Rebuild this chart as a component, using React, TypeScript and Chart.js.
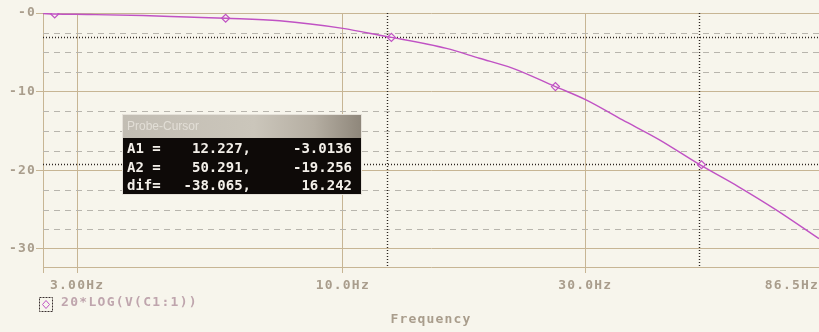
import React, { useEffect, useRef } from 'react';
import { Chart, registerables } from 'chart.js';

Chart.register(...registerables);

// ---- data ----
const freqHz = [2.57, 2.71, 3.18, 4.04, 4.93, 5.88, 7.51, 10.0, 12.227, 12.46, 15.99, 18.56, 21.55, 26.2, 30.1, 35.5, 41.9, 50.291, 60.1, 71.1, 86.5];
const gainDb = [-0.08, -0.13, -0.19, -0.32, -0.51, -0.67, -0.98, -1.95, -3.01, -3.1, -4.5, -5.75, -7.0, -9.36, -11.05, -13.6, -16.1, -19.26, -22.1, -25.0, -28.7];
const markerFreqHz = [2.71, 5.88, 12.46, 26.2, 50.8];
const markerDb = [-0.13, -0.67, -3.1, -9.36, -19.3];
const xTickValues = [2.57, 3, 10, 30, 86.5];
const xTickLabels = ['', '3.00Hz', '10.0Hz', '30.0Hz', '86.5Hz'];
const yTickValues = [0, -10, -20, -30];
const yTickLabels = ['-0', '-10', '-20', '-30'];
const yMinorValues = [-2.5, -5, -7.5, -12.5, -15, -17.5, -22.5, -25, -27.5];
const cursorFreqs = [12.227, 50.291];
const cursorDb = [-3.0136, -19.256];
const probeRows = [
  ['A1 =', '12.227,', '-3.0136'],
  ['A2 =', '50.291,', '-19.256'],
  ['dif=', '-38.065,', '16.242'],
];
const traceLabel = '20*LOG(V(C1:1))';
const xAxisTitle = 'Frequency';
const probeTitle = 'Probe-Cursor';

const BG = '#f7f5ec';
const TAN = '#c7b594';
const TEXT = '#a99d8c';
const TRACE = '#c052c4';
const MONO = '"DejaVu Sans Mono", monospace';

const pspicePlugin = {
  id: 'pspice',
  beforeDraw(chart: any) {
    const { ctx, width, height } = chart;
    ctx.save();
    ctx.fillStyle = BG;
    ctx.fillRect(0, 0, width, height);
    ctx.restore();
    ctx.letterSpacing = '1.2px';
  },
  beforeDatasetsDraw(chart: any) {
    const { ctx, chartArea, scales } = chart;
    const { left, right, top, bottom } = chartArea;
    const x = scales.x;
    const y = scales.y;
    ctx.save();
    ctx.lineWidth = 1;
    ctx.strokeStyle = '#b8b5ad';
    ctx.setLineDash([6, 5]);
    yMinorValues.forEach((v) => {
      const py = Math.round(y.getPixelForValue(v)) + 0.5;
      ctx.beginPath();
      ctx.moveTo(left, py);
      ctx.lineTo(right, py);
      ctx.stroke();
    });
    ctx.strokeStyle = '#2c2520';
    ctx.lineWidth = 1.4;
    ctx.setLineDash([1, 2]);
    cursorDb.forEach((v) => {
      const py = Math.round(y.getPixelForValue(v)) + 0.5;
      ctx.beginPath();
      ctx.moveTo(left, py);
      ctx.lineTo(right, py);
      ctx.stroke();
    });
    cursorFreqs.forEach((f) => {
      const px = Math.round(x.getPixelForValue(f)) + 0.5;
      ctx.beginPath();
      ctx.moveTo(px, top);
      ctx.lineTo(px, bottom);
      ctx.stroke();
    });
    ctx.restore();
  },
  afterDraw(chart: any) {
    const { ctx } = chart;
    ctx.save();
    ctx.letterSpacing = '0px';
    // probe cursor window
    const bx = 122, by = 114, bw = 240, bh = 81;
    ctx.fillStyle = '#e6e2da';
    ctx.fillRect(bx, by, bw, bh);
    const g = ctx.createLinearGradient(bx, 0, bx + bw, 0);
    g.addColorStop(0, '#c2bdb3');
    g.addColorStop(0.55, '#cbc6bb');
    g.addColorStop(0.8, '#b5aea2');
    g.addColorStop(1, '#8e867a');
    ctx.fillStyle = g;
    ctx.fillRect(bx + 1, by + 1, bw - 2, 23);
    ctx.fillStyle = '#e2ded6';
    ctx.font = '12px "Liberation Sans", Arial, sans-serif';
    ctx.textBaseline = 'middle';
    ctx.textAlign = 'left';
    ctx.fillText(probeTitle, bx + 5, by + 13);
    ctx.fillStyle = '#0e0a08';
    ctx.fillRect(bx + 1, by + 24, bw - 2, bh - 25);
    ctx.fillStyle = '#f3efe9';
    ctx.font = 'bold 14px ' + MONO;
    probeRows.forEach((row, i) => {
      const ry = 149.5 + i * 18.5;
      ctx.textAlign = 'left';
      ctx.fillText(row[0], 127, ry);
      ctx.textAlign = 'right';
      ctx.fillText(row[1], 251, ry);
      ctx.fillText(row[2], 352, ry);
    });
    // legend
    ctx.strokeStyle = '#3a3030';
    ctx.lineWidth = 1;
    ctx.setLineDash([2, 1]);
    ctx.strokeRect(39.5, 297.5, 13, 14);
    ctx.setLineDash([]);
    ctx.strokeStyle = TRACE;
    ctx.fillStyle = BG;
    ctx.beginPath();
    ctx.moveTo(46, 300.5);
    ctx.lineTo(49.5, 304.5);
    ctx.lineTo(46, 308.5);
    ctx.lineTo(42.5, 304.5);
    ctx.closePath();
    ctx.fill();
    ctx.stroke();
    ctx.letterSpacing = '1.3px';
    ctx.fillStyle = '#bfa5ad';
    ctx.font = 'bold 13px ' + MONO;
    ctx.textAlign = 'left';
    ctx.textBaseline = 'middle';
    ctx.fillText(traceLabel, 61, 302.5);
    ctx.restore();
  },
};

export default function App() {
  const canvasRef = useRef<HTMLCanvasElement | null>(null);

  useEffect(() => {
    document.body.style.margin = '0';
    const canvas = canvasRef.current;
    if (!canvas) return;
    const chart = new Chart(canvas, {
      type: 'line',
      data: {
        datasets: [
          {
            label: traceLabel,
            data: freqHz.map((f, i) => ({ x: f, y: gainDb[i] })),
            borderColor: TRACE,
            borderWidth: 1.4,
            pointRadius: 0,
            cubicInterpolationMode: 'monotone',
            fill: false,
          },
          {
            label: 'markers',
            data: markerFreqHz.map((f, i) => ({ x: f, y: markerDb[i] })),
            showLine: false,
            pointStyle: 'rectRot',
            pointRadius: 4,
            pointBackgroundColor: BG,
            pointBorderColor: TRACE,
            pointBorderWidth: 1.2,
          },
        ],
      },
      options: {
        responsive: false,
        devicePixelRatio: 1,
        animation: false,
        events: [],
        layout: { autoPadding: false, padding: { left: 0, top: 13, right: 0, bottom: 0 } },
        plugins: { legend: { display: false }, tooltip: { enabled: false }, title: { display: false } },
        scales: {
          x: {
            type: 'logarithmic',
            min: 2.57,
            max: 86.5,
            afterBuildTicks: (s: any) => {
              s.ticks = xTickValues.map((v) => ({ value: v }));
            },
            afterFit: (s: any) => {
              s.height = 65;
              s.paddingLeft = 0;
              s.paddingRight = 0;
            },
            ticks: {
              autoSkip: false,
              maxRotation: 0,
              minRotation: 0,
              align: 'inner',
              padding: 5,
              color: TEXT,
              font: { family: MONO, size: 13, weight: 'bold' },
              callback: (_v: any, i: number) => xTickLabels[i],
            },
            grid: { color: TAN, lineWidth: 1, tickLength: 6 },
            border: { color: TAN, width: 1 },
            title: {
              display: true,
              text: xAxisTitle,
              color: TEXT,
              font: { family: MONO, size: 13, weight: 'bold' },
              padding: { top: 0, bottom: 5 },
            },
          },
          y: {
            type: 'linear',
            min: -32.3,
            max: 0,
            afterBuildTicks: (s: any) => {
              s.ticks = yTickValues.map((v) => ({ value: v }));
            },
            afterFit: (s: any) => {
              s.width = 43;
              s.paddingTop = 0;
              s.paddingBottom = 0;
            },
            ticks: {
              autoSkip: false,
              padding: 0,
              color: TEXT,
              font: { family: MONO, size: 13, weight: 'bold' },
              callback: (_v: any, i: number) => yTickLabels[i],
            },
            grid: { color: TAN, lineWidth: 1, tickLength: 7 },
            border: { color: TAN, width: 1 },
          },
        },
      },
      plugins: [pspicePlugin],
    } as any);
    return () => chart.destroy();
  }, []);

  return (
    <div style={{ position: 'fixed', left: 0, top: 0, width: 819, height: 332, background: BG }}>
      <canvas ref={canvasRef} width={819} height={332} style={{ display: 'block' }} />
    </div>
  );
}
